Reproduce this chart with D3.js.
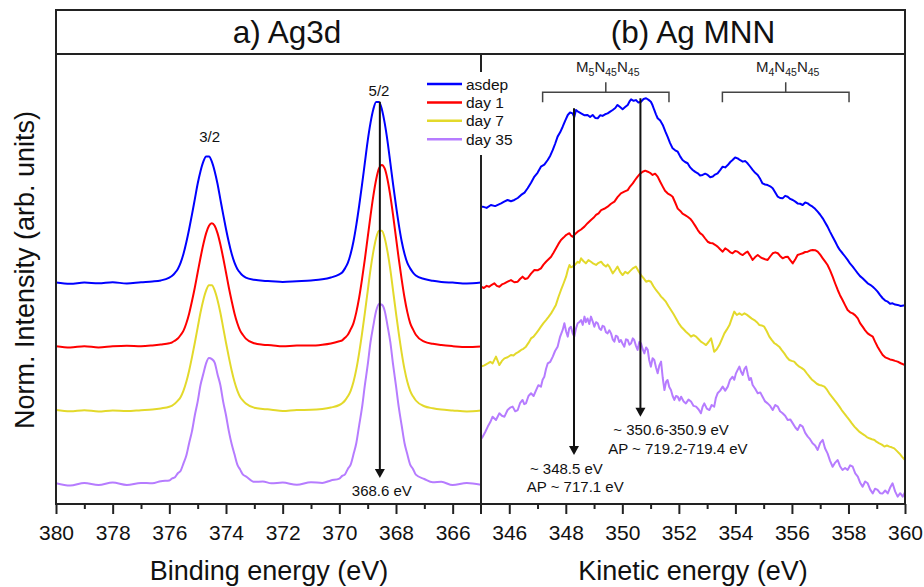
<!DOCTYPE html>
<html><head><meta charset="utf-8">
<script src="https://cdn.jsdelivr.net/npm/d3@7"></script>
<style>body{margin:0;background:#fff} svg{font-family:"Liberation Sans",Arial,sans-serif}</style>
</head><body><svg id="c" width="924" height="587"></svg>
<script>
// ---------- DATA ----------
const seriesNames = ["asdep", "day 1", "day 7", "day 35"];
const seriesColors = ["#0000ff", "#ff0000", "#e3d92b", "#b67cff"];

// Ag3d (binding energy, normalized intensity; stacked with offsets)
const bindingEnergy = [380,379.5,379,378.5,378,377.5,377,376.6,376.3,376.0,
  375.9,375.8,375.7,375.6,375.5,375.4,375.3,375.2,375.1,375.0,374.9,374.8,374.7,374.6,374.5,374.4,374.3,374.2,374.1,374.0,373.9,373.8,373.7,373.6,373.5,373.4,373.3,
  373.0,372.7,372.4,372.0,371.5,371.0,370.6,370.3,370.0,
  369.9,369.8,369.7,369.6,369.5,369.4,369.3,369.2,369.1,369.0,368.9,368.8,368.7,368.6,368.5,368.4,368.3,368.2,368.1,368.0,367.9,367.8,367.7,367.6,367.5,367.4,367.3,
  367.0,366.7,366.4,366.0,365.5,365.0];
const ag3dAsdep = [0.003,-0.004,0.002,-0.002,0.004,-0.003,0.004,0.008,0.014,0.030,
  0.040,0.056,0.078,0.113,0.162,0.226,0.300,0.381,0.466,0.551,0.621,0.674,0.702,0.702,0.674,0.621,0.551,0.466,0.381,0.300,0.226,0.162,0.113,0.078,0.056,0.040,0.030,
  0.018,0.012,0.010,0.006,0.010,0.014,0.020,0.030,0.048,
  0.058,0.081,0.111,0.162,0.232,0.323,0.429,0.545,0.667,0.788,0.889,0.965,1.005,1.005,0.965,0.889,0.788,0.667,0.545,0.429,0.323,0.232,0.162,0.111,0.081,0.058,0.042,
  0.022,0.012,0.006,0.002,-0.003,0.002];
const ag3dDay1 = [0.002,-0.005,0.003,-0.004,0.002,0.005,0.003,0.007,0.012,0.019,
  0.024,0.034,0.045,0.065,0.089,0.130,0.185,0.254,0.329,0.412,0.494,0.569,0.631,0.672,0.686,0.672,0.631,0.569,0.494,0.412,0.329,0.254,0.185,0.130,0.089,0.065,0.045,
  0.019,0.011,0.008,0.002,0.006,0.006,0.011,0.018,0.030,
  0.035,0.050,0.066,0.096,0.131,0.192,0.273,0.374,0.485,0.606,0.727,0.838,0.929,0.990,1.010,0.990,0.929,0.838,0.727,0.606,0.485,0.374,0.273,0.192,0.131,0.096,0.066,
  0.028,0.016,0.009,0.003,-0.002,0.001];
const ag3dDay7 = [0.004,-0.003,0.003,-0.004,0.002,-0.002,0.003,0.007,0.013,0.022,
  0.029,0.040,0.056,0.077,0.112,0.161,0.224,0.298,0.378,0.462,0.546,0.616,0.669,0.697,0.697,0.669,0.616,0.546,0.462,0.378,0.298,0.224,0.161,0.112,0.077,0.056,0.040,
  0.017,0.010,0.006,-0.002,0.004,0.005,0.010,0.018,0.032,
  0.042,0.057,0.080,0.111,0.161,0.231,0.322,0.427,0.543,0.663,0.784,0.884,0.960,1.000,1.000,0.960,0.884,0.784,0.663,0.543,0.427,0.322,0.231,0.161,0.111,0.080,0.057,
  0.025,0.014,0.007,0.002,-0.004,0.001];
const ag3dDay35 = [0.005,-0.008,0.006,-0.006,0.008,-0.005,0.006,0.004,0.016,0.020,
  0.031,0.038,0.060,0.074,0.115,0.158,0.228,0.294,0.382,0.458,0.550,0.612,0.672,0.700,0.694,0.675,0.610,0.550,0.458,0.382,0.294,0.222,0.165,0.108,0.080,0.052,0.043,
  0.012,0.014,0.004,0.008,-0.004,0.010,0.006,0.020,0.030,
  0.045,0.054,0.084,0.108,0.165,0.228,0.326,0.424,0.548,0.660,0.788,0.880,0.962,1.000,0.996,0.963,0.880,0.788,0.660,0.545,0.424,0.325,0.228,0.165,0.108,0.084,0.052,
  0.028,0.010,0.012,-0.006,0.006,-0.004];
const ag3dOffsets = [1.228, 0.874, 0.518, 0.111];

// Ag MNN (kinetic energy, intensity) as [eV, intensity] pairs
const mnnAsdep = [[345.0,1.650],[345.06,1.652],[345.2,1.645],[345.35,1.661],[345.5,1.655],[345.71,1.670],[345.82,1.680],[345.94,1.689],[346.06,1.682],[346.18,1.689],[346.3,1.700],[346.42,1.717],[346.54,1.730],[346.65,1.754],[346.77,1.785],[346.89,1.819],[347.0,1.840],[347.12,1.874],[347.24,1.885],[347.36,1.911],[347.45,1.935],[347.54,1.967],[347.62,2.000],[347.71,2.041],[347.8,2.065],[347.89,2.096],[347.98,2.130],[348.07,2.161],[348.15,2.175],[348.24,2.170],[348.3,2.150],[348.36,2.189],[348.45,2.178],[348.54,2.170],[348.65,2.160],[348.77,2.161],[348.86,2.150],[348.95,2.161],[349.04,2.145],[349.13,2.143],[349.22,2.160],[349.30,2.156],[349.39,2.165],[349.48,2.170],[349.57,2.180],[349.66,2.189],[349.75,2.200],[349.83,2.217],[349.92,2.205],[350.01,2.193],[350.1,2.205],[350.19,2.217],[350.25,2.235],[350.31,2.248],[350.4,2.240],[350.48,2.244],[350.57,2.230],[350.66,2.235],[350.75,2.250],[350.84,2.254],[350.93,2.245],[351.01,2.235],[351.07,2.215],[351.13,2.189],[351.19,2.165],[351.25,2.143],[351.34,2.130],[351.43,2.106],[351.52,2.070],[351.60,2.041],[351.69,2.005],[351.78,1.976],[351.87,1.965],[351.96,1.957],[352.05,1.930],[352.13,1.911],[352.22,1.900],[352.31,1.893],[352.4,1.870],[352.49,1.856],[352.58,1.845],[352.67,1.837],[352.75,1.825],[352.84,1.828],[352.93,1.835],[353.02,1.828],[353.11,1.815],[353.20,1.819],[353.28,1.830],[353.37,1.837],[353.46,1.855],[353.55,1.874],[353.64,1.870],[353.73,1.883],[353.82,1.900],[353.90,1.911],[353.99,1.925],[354.08,1.920],[354.17,1.910],[354.26,1.902],[354.35,1.905],[354.43,1.893],[354.52,1.875],[354.61,1.856],[354.7,1.840],[354.79,1.828],[354.88,1.805],[354.96,1.781],[355.05,1.775],[355.14,1.772],[355.23,1.765],[355.32,1.754],[355.41,1.730],[355.50,1.707],[355.58,1.700],[355.67,1.698],[355.76,1.712],[355.85,1.707],[355.94,1.695],[356.03,1.689],[356.12,1.680],[356.20,1.670],[356.29,1.668],[356.38,1.661],[356.47,1.675],[356.56,1.670],[356.64,1.660],[356.73,1.652],[356.82,1.640],[356.91,1.624],[357.0,1.607],[357.09,1.587],[357.17,1.565],[357.26,1.541],[357.35,1.512],[357.44,1.485],[357.53,1.458],[357.62,1.430],[357.7,1.410],[357.79,1.393],[357.88,1.375],[357.97,1.356],[358.06,1.335],[358.15,1.319],[358.24,1.300],[358.33,1.281],[358.41,1.266],[358.50,1.254],[358.59,1.240],[358.68,1.226],[358.77,1.218],[358.86,1.207],[358.94,1.195],[359.03,1.180],[359.12,1.160],[359.21,1.143],[359.3,1.130],[359.39,1.124],[359.47,1.112],[359.56,1.115],[359.65,1.108],[359.74,1.106],[359.85,1.100],[360.0,1.104]];
const mnnDay1 = [[345.0,1.207],[345.1,1.200],[345.2,1.212],[345.29,1.207],[345.38,1.218],[345.47,1.226],[345.56,1.212],[345.65,1.207],[345.74,1.220],[345.83,1.226],[345.94,1.235],[346.06,1.244],[346.18,1.232],[346.30,1.235],[346.38,1.250],[346.47,1.263],[346.56,1.250],[346.65,1.254],[346.77,1.280],[346.89,1.300],[347.0,1.298],[347.12,1.309],[347.21,1.330],[347.30,1.346],[347.39,1.360],[347.48,1.374],[347.56,1.395],[347.65,1.420],[347.74,1.445],[347.83,1.467],[347.92,1.480],[348.01,1.494],[348.07,1.500],[348.13,1.504],[348.18,1.492],[348.24,1.485],[348.33,1.500],[348.42,1.513],[348.54,1.525],[348.66,1.541],[348.77,1.560],[348.89,1.578],[348.98,1.590],[349.07,1.606],[349.16,1.615],[349.25,1.633],[349.36,1.640],[349.48,1.652],[349.6,1.668],[349.72,1.680],[349.83,1.705],[349.95,1.726],[350.07,1.735],[350.19,1.744],[350.28,1.765],[350.37,1.781],[350.45,1.800],[350.54,1.819],[350.63,1.835],[350.72,1.846],[350.81,1.852],[350.90,1.846],[350.98,1.840],[351.07,1.828],[351.16,1.835],[351.25,1.819],[351.34,1.790],[351.43,1.763],[351.51,1.740],[351.60,1.726],[351.69,1.718],[351.78,1.707],[351.87,1.675],[351.96,1.641],[352.05,1.628],[352.13,1.613],[352.22,1.605],[352.31,1.596],[352.4,1.585],[352.49,1.567],[352.58,1.545],[352.67,1.522],[352.75,1.505],[352.84,1.494],[352.93,1.475],[353.02,1.457],[353.11,1.450],[353.20,1.448],[353.28,1.440],[353.37,1.430],[353.46,1.415],[353.55,1.402],[353.64,1.420],[353.73,1.411],[353.82,1.398],[353.90,1.393],[353.99,1.405],[354.08,1.402],[354.17,1.390],[354.26,1.383],[354.35,1.395],[354.43,1.402],[354.52,1.380],[354.61,1.356],[354.7,1.372],[354.79,1.383],[354.88,1.372],[354.96,1.365],[355.05,1.360],[355.14,1.356],[355.23,1.375],[355.32,1.393],[355.41,1.398],[355.50,1.393],[355.58,1.378],[355.67,1.365],[355.76,1.372],[355.85,1.374],[355.94,1.355],[356.03,1.337],[356.12,1.360],[356.20,1.383],[356.29,1.388],[356.38,1.393],[356.47,1.400],[356.56,1.402],[356.64,1.408],[356.73,1.411],[356.82,1.410],[356.91,1.402],[357.0,1.385],[357.09,1.365],[357.17,1.348],[357.26,1.328],[357.35,1.298],[357.44,1.263],[357.53,1.225],[357.62,1.189],[357.7,1.160],[357.79,1.133],[357.88,1.105],[357.97,1.078],[358.06,1.065],[358.15,1.059],[358.24,1.048],[358.33,1.031],[358.41,1.005],[358.50,0.985],[358.59,0.965],[358.68,0.948],[358.77,0.938],[358.86,0.930],[358.94,0.902],[359.03,0.874],[359.12,0.850],[359.21,0.828],[359.3,0.815],[359.39,0.809],[359.47,0.803],[359.56,0.800],[359.65,0.795],[359.74,0.791],[359.85,0.782],[360.0,0.772]];
const mnnDay7 = [[345.0,0.763],[345.12,0.770],[345.24,0.781],[345.33,0.790],[345.41,0.781],[345.53,0.819],[345.65,0.772],[345.74,0.795],[345.83,0.809],[345.94,0.815],[346.06,0.828],[346.15,0.825],[346.24,0.837],[346.33,0.845],[346.42,0.856],[346.5,0.862],[346.59,0.874],[346.68,0.895],[346.77,0.920],[346.86,0.930],[346.95,0.948],[347.03,0.965],[347.12,0.985],[347.21,1.005],[347.30,1.022],[347.39,1.040],[347.48,1.059],[347.56,1.080],[347.65,1.106],[347.74,1.150],[347.83,1.189],[347.92,1.225],[348.01,1.263],[348.07,1.300],[348.13,1.328],[348.18,1.315],[348.24,1.319],[348.33,1.330],[348.42,1.346],[348.48,1.340],[348.54,1.365],[348.62,1.350],[348.71,1.337],[348.8,1.355],[348.89,1.346],[348.98,1.335],[349.07,1.328],[349.16,1.340],[349.25,1.346],[349.33,1.330],[349.42,1.319],[349.48,1.330],[349.54,1.319],[349.6,1.300],[349.66,1.281],[349.75,1.300],[349.83,1.319],[349.92,1.290],[350.01,1.272],[350.1,1.290],[350.19,1.281],[350.28,1.295],[350.37,1.309],[350.48,1.319],[350.57,1.295],[350.66,1.272],[350.75,1.255],[350.84,1.235],[350.93,1.240],[351.01,1.235],[351.1,1.210],[351.19,1.189],[351.28,1.172],[351.37,1.152],[351.45,1.140],[351.54,1.124],[351.63,1.100],[351.72,1.078],[351.81,1.055],[351.90,1.031],[351.99,1.005],[352.08,0.985],[352.16,0.972],[352.25,0.957],[352.34,0.945],[352.43,0.930],[352.52,0.938],[352.61,0.930],[352.7,0.915],[352.78,0.902],[352.87,0.893],[352.96,0.883],[353.05,0.900],[353.14,0.920],[353.2,0.880],[353.25,0.846],[353.34,0.860],[353.43,0.883],[353.52,0.915],[353.61,0.948],[353.7,0.970],[353.79,0.994],[353.87,1.030],[353.96,1.069],[354.05,1.050],[354.14,1.059],[354.23,1.050],[354.32,1.059],[354.4,1.052],[354.49,1.041],[354.58,1.030],[354.67,1.022],[354.76,1.010],[354.85,0.994],[354.93,0.992],[355.02,0.985],[355.11,0.960],[355.20,0.930],[355.29,0.910],[355.38,0.893],[355.46,0.885],[355.55,0.874],[355.64,0.855],[355.73,0.837],[355.82,0.815],[355.91,0.800],[355.99,0.795],[356.08,0.791],[356.17,0.775],[356.26,0.763],[356.35,0.755],[356.44,0.744],[356.53,0.725],[356.62,0.707],[356.7,0.692],[356.79,0.680],[356.88,0.668],[356.97,0.661],[357.06,0.658],[357.15,0.652],[357.24,0.635],[357.32,0.615],[357.41,0.597],[357.50,0.578],[357.59,0.560],[357.68,0.541],[357.76,0.522],[357.85,0.504],[357.94,0.485],[358.03,0.467],[358.12,0.448],[358.21,0.430],[358.3,0.415],[358.38,0.402],[358.47,0.392],[358.56,0.383],[358.65,0.372],[358.74,0.365],[358.83,0.360],[358.92,0.356],[359.0,0.345],[359.09,0.337],[359.18,0.330],[359.27,0.319],[359.36,0.325],[359.45,0.319],[359.53,0.315],[359.62,0.309],[359.71,0.295],[359.80,0.281],[359.9,0.262],[360.0,0.244]];
const mnnDay35 = [[345.0,0.360],[345.06,0.374],[345.15,0.400],[345.24,0.430],[345.33,0.455],[345.41,0.485],[345.53,0.467],[345.65,0.504],[345.74,0.490],[345.83,0.485],[345.94,0.522],[346.03,0.535],[346.12,0.541],[346.21,0.515],[346.30,0.522],[346.38,0.560],[346.47,0.578],[346.53,0.555],[346.59,0.559],[346.68,0.600],[346.77,0.615],[346.86,0.600],[346.95,0.633],[347.03,0.660],[347.12,0.652],[347.18,0.690],[347.24,0.707],[347.30,0.750],[347.36,0.781],[347.45,0.790],[347.54,0.819],[347.62,0.850],[347.71,0.874],[347.8,0.930],[347.89,0.967],[347.95,1.004],[348.01,0.960],[348.07,0.930],[348.12,0.975],[348.18,0.985],[348.24,0.950],[348.30,0.930],[348.36,0.975],[348.42,1.004],[348.48,1.010],[348.54,1.022],[348.6,0.995],[348.66,1.041],[348.71,1.010],[348.77,1.031],[348.83,1.000],[348.89,1.041],[348.95,1.015],[349.01,0.985],[349.07,1.010],[349.13,1.004],[349.19,0.975],[349.25,0.967],[349.3,0.990],[349.36,0.985],[349.42,0.955],[349.48,0.948],[349.54,0.965],[349.60,0.948],[349.66,0.915],[349.72,0.902],[349.77,0.935],[349.83,0.930],[349.89,0.900],[349.95,0.911],[350.01,0.890],[350.07,0.874],[350.13,0.915],[350.19,0.911],[350.25,0.885],[350.31,0.893],[350.37,0.920],[350.42,0.911],[350.48,0.880],[350.54,0.856],[350.6,0.900],[350.66,0.893],[350.72,0.860],[350.78,0.837],[350.84,0.870],[350.90,0.856],[350.95,0.800],[351.01,0.763],[351.07,0.810],[351.13,0.800],[351.19,0.760],[351.25,0.726],[351.31,0.770],[351.37,0.791],[351.43,0.700],[351.49,0.633],[351.55,0.680],[351.60,0.689],[351.66,0.650],[351.72,0.633],[351.78,0.600],[351.84,0.578],[351.90,0.600],[351.96,0.596],[352.02,0.575],[352.08,0.596],[352.17,0.570],[352.25,0.559],[352.34,0.580],[352.43,0.569],[352.52,0.545],[352.61,0.541],[352.7,0.525],[352.78,0.504],[352.84,0.540],[352.90,0.559],[352.99,0.530],[353.08,0.522],[353.16,0.550],[353.25,0.541],[353.31,0.590],[353.37,0.615],[353.46,0.630],[353.55,0.652],[353.64,0.630],[353.73,0.652],[353.81,0.690],[353.90,0.707],[353.96,0.690],[354.02,0.726],[354.08,0.745],[354.14,0.763],[354.2,0.735],[354.26,0.717],[354.32,0.750],[354.38,0.763],[354.44,0.720],[354.49,0.689],[354.55,0.700],[354.61,0.661],[354.7,0.640],[354.79,0.615],[354.88,0.620],[354.96,0.596],[355.05,0.570],[355.14,0.559],[355.23,0.545],[355.32,0.522],[355.41,0.550],[355.50,0.541],[355.58,0.515],[355.67,0.504],[355.76,0.490],[355.85,0.467],[355.94,0.470],[356.03,0.448],[356.12,0.425],[356.20,0.411],[356.29,0.440],[356.38,0.430],[356.47,0.395],[356.56,0.374],[356.64,0.360],[356.73,0.337],[356.82,0.325],[356.91,0.300],[357.0,0.340],[357.09,0.356],[357.17,0.310],[357.26,0.281],[357.35,0.240],[357.44,0.207],[357.53,0.230],[357.62,0.244],[357.7,0.210],[357.79,0.189],[357.88,0.200],[357.97,0.189],[358.06,0.215],[358.15,0.207],[358.24,0.170],[358.33,0.152],[358.41,0.120],[358.50,0.096],[358.59,0.125],[358.68,0.115],[358.77,0.080],[358.86,0.059],[358.94,0.085],[359.03,0.078],[359.12,0.060],[359.21,0.059],[359.3,0.075],[359.39,0.059],[359.47,0.090],[359.56,0.115],[359.65,0.070],[359.74,0.041],[359.83,0.060],[359.92,0.041],[360.0,0.065]];

const bindingTickLabels = [380, 378, 376, 374, 372, 370, 368, 366];
const bindingMinorTicks = [379, 377, 375, 373, 371, 369, 367, 365];
const kineticTickLabels = [346, 348, 350, 352, 354, 356, 358, 360];
const kineticMinorTicks = [347, 349, 351, 353, 355, 357, 359];

const panelTitles = ["a) Ag3d", "(b) Ag MNN"];
const axisTitles = ["Binding energy (eV)", "Kinetic energy (eV)"];
const yTitle = "Norm. Intensity (arb. units)";

const peakLabels = [{text: "3/2", e: 374.58, v: 2.01}, {text: "5/2", e: 368.6, v: 2.265}];
const ag3dArrow = {e: 368.57, from: 2.235, to: 0.145, label: "368.6 eV"};
const mnnArrows = [
  {e: 348.29, from: 2.198, to: 0.272, lines: ["~ 348.5 eV", "AP ~ 717.1 eV"], lx: [346.73, 346.62], lv: [0.168, 0.067]},
  {e: 350.64, from: 2.254, to: 0.485, lines: ["~ 350.6-350.9 eV", "AP ~ 719.2-719.4 eV"], lx: [349.68, 349.50], lv: [0.381, 0.279]}
];
const brackets = [
  {parts: [["M",0],["5",1],["N",0],["45",1],["N",0],["45",1]], from: 347.18, to: 351.65, v: 2.287},
  {parts: [["M",0],["4",1],["N",0],["45",1],["N",0],["45",1]], from: 353.54, to: 358.02, v: 2.287}
];

// ---------- LAYOUT ----------
const L = 56, M = 481, R = 905, TOP = 10, T = 54, B = 504;
const ink = "#222";
const svg = d3.select("#c");

const xBE = d3.scaleLinear().domain([380, 365]).range([L, M]);
const xKE = d3.scaleLinear().domain([345, 360]).range([M, R]);
const yA = d3.scaleLinear().domain([0, 2.5]).range([B, T]);
const yB = d3.scaleLinear().domain([0, 2.5]).range([B, T]);

const defs = svg.append("defs");
defs.append("clipPath").attr("id", "clipA").append("rect").attr("x", L).attr("y", T).attr("width", M - L).attr("height", B - T);
defs.append("clipPath").attr("id", "clipB").append("rect").attr("x", M).attr("y", T).attr("width", R - M).attr("height", B - T);

// Left panel curves
const ag3dSeries = [ag3dAsdep, ag3dDay1, ag3dDay7, ag3dDay35];
const gA = svg.append("g").attr("clip-path", "url(#clipA)");
ag3dSeries.forEach((vals, i) => {
  const line = d3.line().x((d, j) => xBE(bindingEnergy[j])).y(d => yA(d + ag3dOffsets[i])).curve(d3.curveMonotoneX);
  gA.append("path").datum(vals).attr("d", line).attr("fill", "none")
    .attr("stroke", seriesColors[i]).attr("stroke-width", 2).attr("stroke-linejoin", "round");
});

// Right panel curves
const mnnSeries = [mnnAsdep, mnnDay1, mnnDay7, mnnDay35];
const gB = svg.append("g").attr("clip-path", "url(#clipB)");
mnnSeries.forEach((pts, i) => {
  const line = d3.line().x(d => xKE(d[0])).y(d => yB(d[1]));
  gB.append("path").datum(pts).attr("d", line).attr("fill", "none")
    .attr("stroke", seriesColors[i]).attr("stroke-width", 2).attr("stroke-linejoin", "round");
});

// Frame
const frame = svg.append("g").attr("stroke", ink).attr("stroke-width", 2).attr("fill", "none");
frame.append("rect").attr("x", L).attr("y", TOP).attr("width", R - L).attr("height", B - TOP);
frame.append("line").attr("x1", L).attr("x2", R).attr("y1", T).attr("y2", T);
frame.append("line").attr("x1", M).attr("x2", M).attr("y1", T).attr("y2", B);

// Axes
function drawAxis(scale, major, minor) {
  const gMaj = svg.append("g").attr("transform", `translate(0,${B})`)
    .call(d3.axisBottom(scale).tickValues(major).tickSize(10).tickPadding(11).tickFormat(d3.format("d")));
  gMaj.select(".domain").remove();
  gMaj.selectAll("line").attr("stroke", ink).attr("stroke-width", 2);
  gMaj.selectAll("text").attr("font-size", 21).attr("fill", "#111").attr("font-family", "Liberation Sans, Arial, sans-serif");
  const gMin = svg.append("g").attr("transform", `translate(0,${B})`)
    .call(d3.axisBottom(scale).tickValues(minor).tickSize(5).tickFormat(""));
  gMin.select(".domain").remove();
  gMin.selectAll("line").attr("stroke", ink).attr("stroke-width", 2);
}
drawAxis(xBE, bindingTickLabels, bindingMinorTicks.filter(d => d !== 365));
drawAxis(xKE, kineticTickLabels, kineticMinorTicks);
svg.append("line").attr("x1", M).attr("x2", M).attr("y1", B).attr("y2", B + 10).attr("stroke", ink).attr("stroke-width", 2);

// Titles
svg.append("text").attr("x", 287).attr("y", 43).attr("text-anchor", "middle").attr("font-size", 31.5).attr("fill", "#111").text(panelTitles[0]);
svg.append("text").attr("x", (M + R) / 2).attr("y", 43).attr("text-anchor", "middle").attr("font-size", 31.5).attr("fill", "#111").text(panelTitles[1]);
svg.append("text").attr("x", 269).attr("y", 580).attr("text-anchor", "middle").attr("font-size", 27).attr("fill", "#111").text(axisTitles[0]);
svg.append("text").attr("x", 693).attr("y", 580).attr("text-anchor", "middle").attr("font-size", 27).attr("fill", "#111").text(axisTitles[1]);
svg.append("text").attr("transform", "translate(34,270) rotate(-90)").attr("text-anchor", "middle").attr("font-size", 27).attr("fill", "#111").text(yTitle);

// Peak labels
peakLabels.forEach(p => {
  svg.append("text").attr("x", xBE(p.e)).attr("y", yA(p.v)).attr("text-anchor", "middle").attr("font-size", 15).attr("fill", "#111").text(p.text);
});

// Arrows
function arrow(x, y1, y2) {
  svg.append("line").attr("x1", x).attr("x2", x).attr("y1", y1).attr("y2", y2 - 7).attr("stroke", "#111").attr("stroke-width", 2);
  svg.append("path").attr("d", `M${x - 5},${y2 - 9} L${x + 5},${y2 - 9} L${x},${y2} Z`).attr("fill", "#111");
}
arrow(xBE(ag3dArrow.e), yA(ag3dArrow.from), yA(ag3dArrow.to));
svg.append("text").attr("x", xBE(ag3dArrow.e) + 2).attr("y", 496).attr("text-anchor", "middle").attr("font-size", 15).attr("fill", "#111").text(ag3dArrow.label);
mnnArrows.forEach(a => {
  arrow(xKE(a.e), yB(a.from), yB(a.to));
  a.lines.forEach((t, k) => {
    svg.append("text").attr("x", xKE(a.lx[k])).attr("y", yB(a.lv[k])).attr("font-size", 15).attr("fill", "#111").text(t);
  });
});

// Brackets
brackets.forEach(b => {
  const x1 = xKE(b.from), x2 = xKE(b.to), xc = (x1 + x2) / 2, y = yB(b.v);
  svg.append("path").attr("d", `M${x1},${y + 10} L${x1},${y} L${x2},${y} L${x2},${y + 10} M${xc},${y} L${xc},${y - 10}`)
    .attr("fill", "none").attr("stroke", "#444").attr("stroke-width", 1.5);
  const t = svg.append("text").attr("x", xc + 2).attr("y", 72).attr("text-anchor", "middle").attr("fill", "#222");
  b.parts.forEach((p, k) => {
    const prevSub = k > 0 ? b.parts[k - 1][1] : 0;
    const dy = p[1] && !prevSub ? 4 : (!p[1] && prevSub ? -4 : 0);
    t.append("tspan").attr("font-size", p[1] ? 10.5 : 15).attr("dy", dy).text(p[0]);
  });
});

// Legend
const lg = svg.append("g");
lg.append("rect").attr("x", 418).attr("y", 72).attr("width", 100).attr("height", 83).attr("fill", "#fff");
seriesNames.forEach((n, i) => {
  const y = 84 + i * 18.4;
  lg.append("line").attr("x1", 427).attr("x2", 462).attr("y1", y).attr("y2", y).attr("stroke", seriesColors[i]).attr("stroke-width", 2.5);
  lg.append("text").attr("x", 466).attr("y", y + 5.5).attr("font-size", 15.5).attr("fill", "#111").text(n);
});
</script></body></html>
